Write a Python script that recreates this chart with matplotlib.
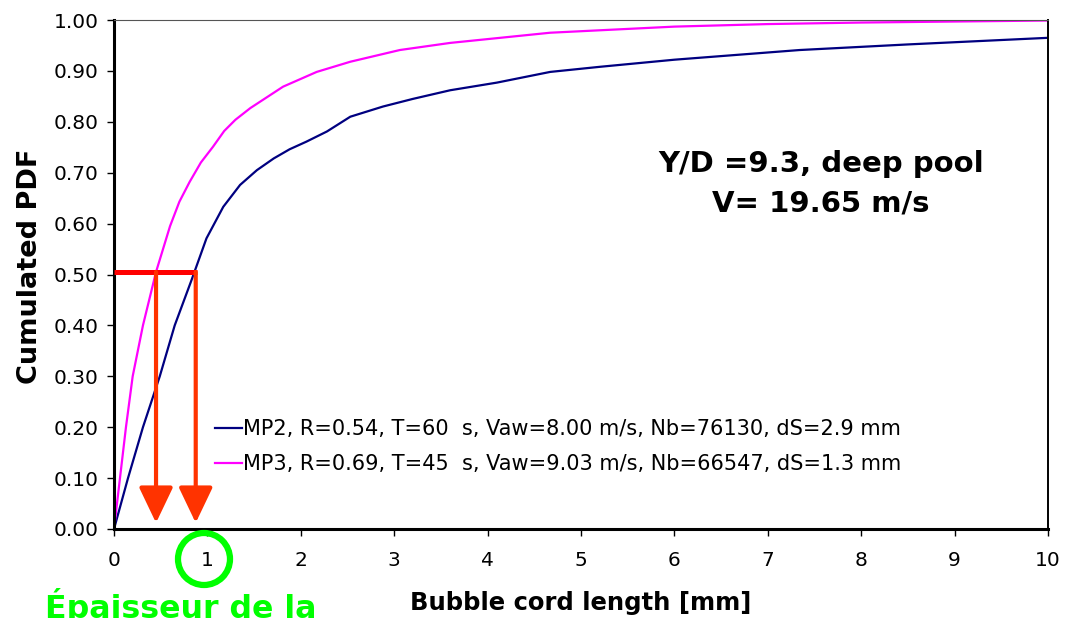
import matplotlib
matplotlib.use("Agg")
import matplotlib.pyplot as plt
from matplotlib.patches import Ellipse

plt.rcParams['font.family'] = ['DejaVu Sans']

# Data
mp2_x = [0, 0.15, 0.31, 0.49, 0.65, 0.83, 0.99, 1.17, 1.35, 1.53, 1.71, 1.88, 2.06, 2.28,
         2.53, 2.88, 3.2, 3.6, 4.1, 4.67, 5.2, 6.0, 7.34, 8.5, 10.0]
mp2_y = [0, 0.10, 0.20, 0.30, 0.40, 0.489, 0.571, 0.633, 0.676, 0.705, 0.728, 0.746, 0.761, 0.781,
         0.81, 0.83, 0.845, 0.862, 0.877, 0.898, 0.908, 0.922, 0.941, 0.952, 0.965]
mp3_x = [0, 0.064, 0.128, 0.20, 0.31, 0.45, 0.60, 0.70, 0.81, 0.93, 1.06, 1.18, 1.30, 1.46,
         1.81, 2.17, 2.53, 3.06, 3.6, 4.67, 6.0, 7.0, 8.0, 9.0, 10.0]
mp3_y = [0, 0.10, 0.20, 0.30, 0.40, 0.505, 0.595, 0.643, 0.682, 0.72, 0.751, 0.782, 0.804, 0.827,
         0.869, 0.898, 0.918, 0.941, 0.955, 0.975, 0.987, 0.992, 0.995, 0.997, 0.999]
labels = ["MP2, R=0.54, T=60  s, Vaw=8.00 m/s, Nb=76130, dS=2.9 mm",
          "MP3, R=0.69, T=45  s, Vaw=9.03 m/s, Nb=66547, dS=1.3 mm"]
median_level = 0.505
median_x = [0.45, 0.875]
hline_end = 0.89
arrow_tip = 0.012
x_ticks = list(range(0, 11))
y_ticks = [i / 10 for i in range(0, 11)]

fig = plt.figure(figsize=(10.68, 6.18), dpi=100)
ax = fig.add_axes([114 / 1068, 89 / 618, (1048 - 114) / 1068, (529 - 20) / 618])

l1, = ax.plot(mp2_x, mp2_y, color='#000080', lw=1.6, label=labels[0])
l2, = ax.plot(mp3_x, mp3_y, color='#ff00ff', lw=1.6, label=labels[1])

# red median construction
ax.plot([0, hline_end], [median_level, median_level], color='#ff0000', lw=3.6,
        solid_capstyle='butt', zorder=4)
for xm in median_x:
    ax.annotate('', xy=(xm, arrow_tip), xytext=(xm, median_level),
                arrowprops=dict(arrowstyle='-|>,head_length=22,head_width=10.5',
                                mutation_scale=1, lw=3, color='#ff3300',
                                shrinkA=0, shrinkB=0), zorder=5)

ax.set_xlim(0, 10)
ax.set_ylim(0, 1.0)
ax.set_xticks(x_ticks)
ax.set_xticklabels([str(t) for t in x_ticks])
ax.set_yticks(y_ticks)
ax.set_yticklabels([f"{t:.2f}" for t in y_ticks])
ax.tick_params(direction='out', length=5, width=1, labelsize=14.5, pad=6, colors='black')
ax.tick_params(axis='x', pad=11)

for s in ['left', 'bottom']:
    ax.spines[s].set_linewidth(2.2)
ax.spines['right'].set_linewidth(1.4)
ax.spines['top'].set_linewidth(0.8)
ax.spines['top'].set_color('#555555')

ax.set_xlabel('Bubble cord length [mm]', fontsize=17.5, fontweight='bold', labelpad=15)
ax.set_ylabel('Cumulated PDF', fontsize=19.5, fontweight='bold')
ax.yaxis.set_label_coords(-0.076, 0.517)

leg = ax.legend(handles=[l1, l2], loc='upper left', bbox_to_anchor=(0.099, 0.232),
                frameon=False, fontsize=15, handlelength=1.3, handletextpad=0.05,
                labelspacing=0.72, borderaxespad=0)

ax.text(0.757, 0.678, 'Y/D =9.3, deep pool\nV= 19.65 m/s', transform=ax.transAxes,
        ha='center', va='center', fontsize=21, fontweight='bold', linespacing=1.5)

# green annotation
circle = Ellipse((204 / 1068, 1 - 559 / 618), 52 / 1068, 52 / 618,
                 transform=fig.transFigure, fill=False, edgecolor='#00ff00', lw=4.5,
                 clip_on=False)
fig.patches.append(circle)
fig.text(45 / 1068, 1 - 588 / 618, 'Épaisseur de la', color='#00ff00', fontsize=22.8,
         fontweight='bold', ha='left', va='top')

fig.savefig('out.png', dpi=100)
